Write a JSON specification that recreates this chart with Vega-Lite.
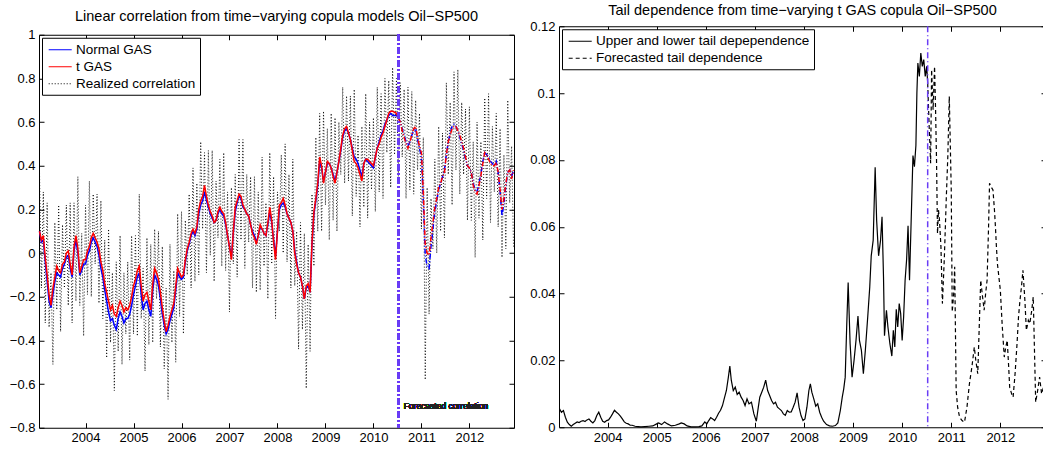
{
"$schema":"https://vega.github.io/schema/vega-lite/v6.json",
"padding":{"left":8,"top":0,"right":0,"bottom":0},
"config":{"view":{"stroke":"black","strokeWidth":1},"font":"Liberation Sans",
"axis":{"grid":false,"domain":false,"tickColor":"black","tickSize":5,"offset":-5,"labelColor":"black","labelFontSize":13,"labelFont":"Liberation Sans","labelPadding":4},
"title":{"font":"Liberation Sans","fontSize":14.5,"fontWeight":"normal","color":"black","offset":4},
"legend":{"title":null,"orient":"top-left","offset":3,"padding":4,"strokeColor":"black","fillColor":"white","labelFontSize":13.5,"labelFont":"Liberation Sans","labelColor":"black","symbolType":"M-0.76,0H2.53","symbolSize":196,"symbolStrokeWidth":1.2,"labelOffset":14,"rowPadding":2,"cornerRadius":0,"labelLimit":400}},
"resolve":{"scale":{"color":"independent"},"legend":{"color":"independent"}},
"spacing":11,
"center":true,
"datasets":{
"left":[
{"t":2003.04,"n":0.10,"g":0.10,"r":0.38},{"t":2003.08,"n":0.05,"g":0.06,"r":-0.16},{"t":2003.12,"n":0.06,"g":0.08,"r":0.28},{"t":2003.16,"n":-0.04,"g":-0.02,"r":-0.32},{"t":2003.20,"n":-0.13,"g":-0.10,"r":0.23},{"t":2003.24,"n":-0.22,"g":-0.19,"r":-0.34},{"t":2003.28,"n":-0.25,"g":-0.24,"r":-0.09},{"t":2003.32,"n":-0.19,"g":-0.16,"r":-0.51},
{"t":2003.36,"n":-0.13,"g":-0.11,"r":0.14},{"t":2003.40,"n":-0.09,"g":-0.06,"r":-0.26},{"t":2003.44,"n":-0.10,"g":-0.08,"r":0.22},{"t":2003.48,"n":-0.11,"g":-0.09,"r":-0.36},{"t":2003.52,"n":-0.07,"g":-0.05,"r":0.13},{"t":2003.56,"n":-0.05,"g":-0.04,"r":-0.16},{"t":2003.60,"n":-0.02,"g":0.00,"r":0.22},{"t":2003.64,"n":-0.01,"g":0.01,"r":-0.24},
{"t":2003.68,"n":-0.07,"g":-0.05,"r":0.23},{"t":2003.72,"n":-0.11,"g":-0.10,"r":-0.32},{"t":2003.76,"n":0.01,"g":0.03,"r":0.23},{"t":2003.80,"n":0.06,"g":0.08,"r":-0.22},{"t":2003.84,"n":0.00,"g":0.02,"r":0.35},{"t":2003.88,"n":-0.10,"g":-0.09,"r":-0.24},{"t":2003.92,"n":-0.08,"g":-0.06,"r":0.09},{"t":2003.96,"n":-0.05,"g":-0.03,"r":-0.38},
{"t":2004.00,"n":-0.05,"g":-0.03,"r":0.22},{"t":2004.04,"n":-0.01,"g":0.01,"r":-0.19},{"t":2004.08,"n":0.01,"g":0.03,"r":0.33},{"t":2004.12,"n":0.05,"g":0.07,"r":-0.20},{"t":2004.16,"n":0.07,"g":0.09,"r":0.27},{"t":2004.20,"n":0.05,"g":0.07,"r":-0.05},{"t":2004.24,"n":0.03,"g":0.05,"r":0.27},{"t":2004.28,"n":-0.01,"g":0.02,"r":-0.23},
{"t":2004.32,"n":-0.07,"g":-0.04,"r":0.24},{"t":2004.36,"n":-0.11,"g":-0.08,"r":-0.30},{"t":2004.40,"n":-0.17,"g":-0.14,"r":0.06},{"t":2004.44,"n":-0.22,"g":-0.18,"r":-0.48},{"t":2004.48,"n":-0.27,"g":-0.22,"r":0.11},{"t":2004.52,"n":-0.31,"g":-0.26,"r":-0.41},{"t":2004.56,"n":-0.30,"g":-0.24,"r":-0.09},{"t":2004.60,"n":-0.33,"g":-0.28,"r":-0.63},
{"t":2004.64,"n":-0.35,"g":-0.29,"r":-0.04},{"t":2004.68,"n":-0.30,"g":-0.25,"r":-0.45},{"t":2004.72,"n":-0.27,"g":-0.22,"r":0.08},{"t":2004.76,"n":-0.29,"g":-0.24,"r":-0.51},{"t":2004.80,"n":-0.32,"g":-0.27,"r":-0.09},{"t":2004.84,"n":-0.30,"g":-0.25,"r":-0.37},{"t":2004.88,"n":-0.30,"g":-0.26,"r":-0.04},{"t":2004.92,"n":-0.28,"g":-0.24,"r":-0.49},
{"t":2004.96,"n":-0.24,"g":-0.20,"r":0.08},{"t":2005.00,"n":-0.19,"g":-0.15,"r":-0.37},{"t":2005.04,"n":-0.15,"g":-0.12,"r":0.08},{"t":2005.08,"n":-0.11,"g":-0.08,"r":-0.38},{"t":2005.12,"n":-0.09,"g":-0.06,"r":0.27},{"t":2005.16,"n":-0.19,"g":-0.15,"r":-0.30},{"t":2005.20,"n":-0.26,"g":-0.22,"r":-0.07},{"t":2005.24,"n":-0.23,"g":-0.19,"r":-0.54},
{"t":2005.28,"n":-0.22,"g":-0.18,"r":0.07},{"t":2005.32,"n":-0.26,"g":-0.22,"r":-0.42},{"t":2005.36,"n":-0.29,"g":-0.26,"r":0.04},{"t":2005.40,"n":-0.17,"g":-0.14,"r":-0.41},{"t":2005.44,"n":-0.10,"g":-0.07,"r":0.11},{"t":2005.48,"n":-0.12,"g":-0.09,"r":-0.21},{"t":2005.52,"n":-0.15,"g":-0.12,"r":0.10},{"t":2005.56,"n":-0.21,"g":-0.18,"r":-0.43},
{"t":2005.60,"n":-0.28,"g":-0.25,"r":0.03},{"t":2005.64,"n":-0.33,"g":-0.31,"r":-0.53},{"t":2005.68,"n":-0.37,"g":-0.36,"r":-0.16},{"t":2005.72,"n":-0.35,"g":-0.33,"r":-0.67},{"t":2005.76,"n":-0.31,"g":-0.29,"r":0.04},{"t":2005.80,"n":-0.28,"g":-0.26,"r":-0.41},{"t":2005.84,"n":-0.25,"g":-0.23,"r":-0.08},{"t":2005.88,"n":-0.17,"g":-0.15,"r":-0.50},
{"t":2005.92,"n":-0.09,"g":-0.07,"r":0.18},{"t":2005.96,"n":-0.11,"g":-0.09,"r":-0.29},{"t":2006.00,"n":-0.12,"g":-0.11,"r":0.19},{"t":2006.04,"n":-0.11,"g":-0.10,"r":-0.37},{"t":2006.08,"n":-0.04,"g":-0.03,"r":0.15},{"t":2006.12,"n":0.01,"g":0.02,"r":-0.10},{"t":2006.16,"n":0.04,"g":0.05,"r":0.27},{"t":2006.20,"n":0.08,"g":0.09,"r":-0.16},
{"t":2006.24,"n":0.10,"g":0.11,"r":0.39},{"t":2006.28,"n":0.08,"g":0.09,"r":-0.13},{"t":2006.32,"n":0.11,"g":0.12,"r":0.32},{"t":2006.36,"n":0.18,"g":0.20,"r":-0.10},{"t":2006.40,"n":0.22,"g":0.24,"r":0.51},{"t":2006.44,"n":0.24,"g":0.26,"r":0.11},{"t":2006.48,"n":0.28,"g":0.31,"r":0.46},{"t":2006.52,"n":0.24,"g":0.26,"r":-0.09},
{"t":2006.56,"n":0.21,"g":0.22,"r":0.47},{"t":2006.60,"n":0.18,"g":0.19,"r":-0.01},{"t":2006.64,"n":0.16,"g":0.17,"r":0.47},{"t":2006.68,"n":0.14,"g":0.14,"r":-0.13},{"t":2006.72,"n":0.15,"g":0.15,"r":0.33},{"t":2006.76,"n":0.18,"g":0.19,"r":0.07},{"t":2006.80,"n":0.20,"g":0.21,"r":0.43},{"t":2006.84,"n":0.18,"g":0.19,"r":-0.06},
{"t":2006.88,"n":0.17,"g":0.18,"r":0.46},{"t":2006.92,"n":0.13,"g":0.14,"r":-0.08},{"t":2006.96,"n":0.08,"g":0.08,"r":0.28},{"t":2007.00,"n":0.03,"g":0.03,"r":-0.27},{"t":2007.04,"n":-0.02,"g":-0.03,"r":0.30},{"t":2007.08,"n":0.09,"g":0.10,"r":-0.05},{"t":2007.12,"n":0.19,"g":0.21,"r":0.36},{"t":2007.16,"n":0.23,"g":0.24,"r":-0.11},
{"t":2007.20,"n":0.26,"g":0.27,"r":0.52},{"t":2007.24,"n":0.25,"g":0.26,"r":0.06},{"t":2007.28,"n":0.21,"g":0.22,"r":0.52},{"t":2007.32,"n":0.20,"g":0.20,"r":-0.07},{"t":2007.36,"n":0.18,"g":0.18,"r":0.36},{"t":2007.40,"n":0.17,"g":0.17,"r":0.05},{"t":2007.44,"n":0.13,"g":0.13,"r":0.35},{"t":2007.48,"n":0.10,"g":0.09,"r":-0.16},
{"t":2007.52,"n":0.08,"g":0.07,"r":0.35},{"t":2007.56,"n":0.05,"g":0.04,"r":-0.18},{"t":2007.60,"n":0.08,"g":0.08,"r":0.28},{"t":2007.64,"n":0.12,"g":0.13,"r":-0.17},{"t":2007.68,"n":0.11,"g":0.11,"r":0.44},{"t":2007.72,"n":0.09,"g":0.09,"r":-0.06},{"t":2007.76,"n":0.08,"g":0.08,"r":0.23},{"t":2007.80,"n":0.13,"g":0.14,"r":-0.21},
{"t":2007.84,"n":0.19,"g":0.21,"r":0.46},{"t":2007.88,"n":0.14,"g":0.15,"r":-0.05},{"t":2007.92,"n":0.06,"g":0.05,"r":0.35},{"t":2007.96,"n":-0.01,"g":-0.03,"r":-0.30},{"t":2008.00,"n":0.10,"g":0.10,"r":0.28},{"t":2008.04,"n":0.20,"g":0.22,"r":0.10},{"t":2008.08,"n":0.22,"g":0.23,"r":0.45},{"t":2008.12,"n":0.23,"g":0.25,"r":0.00},
{"t":2008.16,"n":0.21,"g":0.22,"r":0.50},{"t":2008.20,"n":0.18,"g":0.18,"r":-0.04},{"t":2008.24,"n":0.16,"g":0.16,"r":0.36},{"t":2008.28,"n":0.14,"g":0.14,"r":-0.16},{"t":2008.32,"n":0.10,"g":0.10,"r":0.43},{"t":2008.36,"n":0.01,"g":0.00,"r":-0.15},{"t":2008.40,"n":-0.04,"g":-0.05,"r":0.10},{"t":2008.44,"n":-0.09,"g":-0.09,"r":-0.44},
{"t":2008.48,"n":-0.11,"g":-0.11,"r":0.14},{"t":2008.52,"n":-0.15,"g":-0.15,"r":-0.35},{"t":2008.56,"n":-0.21,"g":-0.21,"r":0.09},{"t":2008.60,"n":-0.16,"g":-0.15,"r":-0.62},{"t":2008.64,"n":-0.15,"g":-0.14,"r":0.04},{"t":2008.68,"n":-0.18,"g":-0.18,"r":-0.45},{"t":2008.72,"n":0.04,"g":0.05,"r":0.27},{"t":2008.76,"n":0.18,"g":0.19,"r":-0.06},
{"t":2008.80,"n":0.24,"g":0.25,"r":0.53},{"t":2008.84,"n":0.31,"g":0.32,"r":0.10},{"t":2008.88,"n":0.42,"g":0.44,"r":0.64},{"t":2008.92,"n":0.39,"g":0.40,"r":0.10},{"t":2008.96,"n":0.33,"g":0.32,"r":0.65},{"t":2009.00,"n":0.37,"g":0.37,"r":0.22},{"t":2009.04,"n":0.41,"g":0.42,"r":0.57},{"t":2009.08,"n":0.41,"g":0.41,"r":0.06},
{"t":2009.12,"n":0.39,"g":0.39,"r":0.64},{"t":2009.16,"n":0.36,"g":0.35,"r":0.15},{"t":2009.20,"n":0.33,"g":0.32,"r":0.62},{"t":2009.24,"n":0.37,"g":0.37,"r":0.10},{"t":2009.28,"n":0.42,"g":0.42,"r":0.60},{"t":2009.32,"n":0.47,"g":0.48,"r":0.36},{"t":2009.36,"n":0.53,"g":0.54,"r":0.76},{"t":2009.40,"n":0.56,"g":0.57,"r":0.32},
{"t":2009.44,"n":0.57,"g":0.58,"r":0.72},{"t":2009.48,"n":0.55,"g":0.55,"r":0.33},{"t":2009.52,"n":0.52,"g":0.52,"r":0.72},{"t":2009.56,"n":0.48,"g":0.47,"r":0.17},{"t":2009.60,"n":0.44,"g":0.42,"r":0.75},{"t":2009.64,"n":0.43,"g":0.41,"r":0.26},{"t":2009.68,"n":0.41,"g":0.39,"r":0.54},{"t":2009.72,"n":0.38,"g":0.36,"r":0.12},
{"t":2009.76,"n":0.35,"g":0.33,"r":0.58},{"t":2009.80,"n":0.41,"g":0.41,"r":0.21},{"t":2009.84,"n":0.43,"g":0.43,"r":0.73},{"t":2009.88,"n":0.42,"g":0.43,"r":0.16},{"t":2009.92,"n":0.41,"g":0.42,"r":0.60},{"t":2009.96,"n":0.40,"g":0.41,"r":0.29},{"t":2010.00,"n":0.39,"g":0.40,"r":0.62},{"t":2010.04,"n":0.44,"g":0.44,"r":0.19},
{"t":2010.08,"n":0.48,"g":0.48,"r":0.76},{"t":2010.12,"n":0.51,"g":0.50,"r":0.28},{"t":2010.16,"n":0.54,"g":0.53,"r":0.73},{"t":2010.20,"n":0.56,"g":0.55,"r":0.25},{"t":2010.24,"n":0.59,"g":0.58,"r":0.80},{"t":2010.28,"n":0.61,"g":0.61,"r":0.46},{"t":2010.32,"n":0.63,"g":0.64,"r":0.79},{"t":2010.36,"n":0.64,"g":0.65,"r":0.30},
{"t":2010.40,"n":0.63,"g":0.65,"r":0.85},{"t":2010.44,"n":0.63,"g":0.645,"r":0.45},{"t":2010.48,"n":0.63,"g":0.64,"r":0.80},{"t":2010.52,"n":0.62,"g":0.62,"r":0.35},{"t":2010.56,"n":0.60,"g":0.60,"r":0.78},{"t":2010.60,"n":0.57,"g":0.56,"r":0.44},{"t":2010.64,"n":0.54,"g":0.53,"r":0.75},{"t":2010.68,"n":0.51,"g":0.50,"r":0.25},
{"t":2010.72,"n":0.49,"g":0.48,"r":0.76},{"t":2010.76,"n":0.51,"g":0.51,"r":0.29},{"t":2010.80,"n":0.54,"g":0.54,"r":0.74},{"t":2010.84,"n":0.56,"g":0.57,"r":0.27},{"t":2010.88,"n":0.57,"g":0.58,"r":0.70},{"t":2010.92,"n":0.52,"g":0.53,"r":0.38},{"t":2010.96,"n":0.48,"g":0.49,"r":0.64},{"t":2011.00,"n":0.44,"g":0.46,"r":0.11},
{"t":2011.04,"n":0.24,"g":0.28,"r":0.53},{"t":2011.08,"n":-0.01,"g":0.04,"r":-0.58},{"t":2011.12,"n":-0.06,"g":0.00,"r":0.30},{"t":2011.16,"n":-0.07,"g":-0.01,"r":-0.28},{"t":2011.20,"n":0.03,"g":0.07,"r":0.25},{"t":2011.24,"n":0.11,"g":0.14,"r":0.02},{"t":2011.28,"n":0.19,"g":0.21,"r":0.43},{"t":2011.32,"n":0.24,"g":0.25,"r":0.00},
{"t":2011.36,"n":0.29,"g":0.30,"r":0.58},{"t":2011.40,"n":0.32,"g":0.32,"r":0.10},{"t":2011.44,"n":0.35,"g":0.35,"r":0.55},{"t":2011.48,"n":0.38,"g":0.37,"r":0.07},{"t":2011.52,"n":0.45,"g":0.45,"r":0.78},{"t":2011.56,"n":0.51,"g":0.51,"r":0.36},{"t":2011.60,"n":0.55,"g":0.54,"r":0.69},{"t":2011.64,"n":0.58,"g":0.57,"r":0.22},
{"t":2011.68,"n":0.59,"g":0.58,"r":0.83},{"t":2011.72,"n":0.58,"g":0.58,"r":0.38},{"t":2011.76,"n":0.56,"g":0.56,"r":0.84},{"t":2011.80,"n":0.53,"g":0.54,"r":0.27},{"t":2011.84,"n":0.50,"g":0.51,"r":0.69},{"t":2011.88,"n":0.47,"g":0.48,"r":0.36},{"t":2011.92,"n":0.43,"g":0.44,"r":0.66},{"t":2011.96,"n":0.40,"g":0.40,"r":0.15},
{"t":2012.00,"n":0.39,"g":0.39,"r":0.67},{"t":2012.04,"n":0.37,"g":0.37,"r":0.15},{"t":2012.08,"n":0.32,"g":0.31,"r":0.51},{"t":2012.12,"n":0.29,"g":0.28,"r":-0.02},{"t":2012.16,"n":0.28,"g":0.27,"r":0.60},{"t":2012.20,"n":0.32,"g":0.31,"r":0.16},{"t":2012.24,"n":0.36,"g":0.355,"r":0.51},{"t":2012.28,"n":0.42,"g":0.41,"r":0.06},
{"t":2012.32,"n":0.46,"g":0.46,"r":0.71},{"t":2012.36,"n":0.45,"g":0.45,"r":0.25},{"t":2012.40,"n":0.44,"g":0.43,"r":0.73},{"t":2012.44,"n":0.42,"g":0.41,"r":0.14},{"t":2012.48,"n":0.41,"g":0.40,"r":0.58},{"t":2012.52,"n":0.40,"g":0.40,"r":0.28},{"t":2012.56,"n":0.42,"g":0.415,"r":0.64},{"t":2012.60,"n":0.37,"g":0.37,"r":0.12},
{"t":2012.64,"n":0.28,"g":0.29,"r":0.57},{"t":2012.68,"n":0.17,"g":0.20,"r":-0.02},{"t":2012.72,"n":0.23,"g":0.25,"r":0.45},{"t":2012.76,"n":0.31,"g":0.32,"r":0.02},{"t":2012.80,"n":0.37,"g":0.37,"r":0.70},{"t":2012.84,"n":0.38,"g":0.38,"r":0.23},{"t":2012.88,"n":0.35,"g":0.34,"r":0.49},{"t":2012.92,"n":0.38,"g":0.38,"r":0.03}
],
"tailObs":[
{"t":2003.02,"v":0.0055},{"t":2003.06,"v":0.0045},{"t":2003.10,"v":0.0050},{"t":2003.14,"v":0.0030},{"t":2003.18,"v":0.0015},{"t":2003.22,"v":0.0008},{"t":2003.26,"v":0.0003},{"t":2003.30,"v":0.0008},{"t":2003.34,"v":0.0012},{"t":2003.38,"v":0.0016},{"t":2003.42,"v":0.0014},{"t":2003.46,"v":0.0018},{"t":2003.50,"v":0.0020},{"t":2003.54,"v":0.0017},{"t":2003.58,"v":0.0022},{"t":2003.62,"v":0.0025},{"t":2003.66,"v":0.0018},{"t":2003.70,"v":0.0013},{"t":2003.74,"v":0.0020},{"t":2003.78,"v":0.0035},{"t":2003.82,"v":0.0045},{"t":2003.86,"v":0.0030},{"t":2003.90,"v":0.0018},{"t":2003.94,"v":0.0015},{"t":2003.98,"v":0.0020},
{"t":2004.02,"v":0.0022},{"t":2004.06,"v":0.0030},{"t":2004.10,"v":0.0040},{"t":2004.14,"v":0.0051},{"t":2004.18,"v":0.0045},{"t":2004.22,"v":0.0040},{"t":2004.26,"v":0.0033},{"t":2004.30,"v":0.0025},{"t":2004.34,"v":0.0016},{"t":2004.38,"v":0.0012},{"t":2004.42,"v":0.0010},{"t":2004.46,"v":0.0006},{"t":2004.50,"v":0.0006},{"t":2004.56,"v":0.0003},{"t":2004.62,"v":0.0002},{"t":2004.68,"v":0.0001},{"t":2004.76,"v":0.0002},{"t":2004.84,"v":0.0003},{"t":2004.92,"v":0.0004},
{"t":2005.00,"v":0.0010},{"t":2005.04,"v":0.0013},{"t":2005.10,"v":0.0008},{"t":2005.16,"v":0.0016},{"t":2005.22,"v":0.0010},{"t":2005.30,"v":0.0004},{"t":2005.38,"v":0.0006},{"t":2005.46,"v":0.0010},{"t":2005.50,"v":0.0013},{"t":2005.56,"v":0.0010},{"t":2005.62,"v":0.0004},{"t":2005.70,"v":0.0001},{"t":2005.78,"v":0.0001},{"t":2005.86,"v":0.0002},{"t":2005.92,"v":0.0004},{"t":2005.98,"v":0.0016},
{"t":2006.02,"v":0.0010},{"t":2006.06,"v":0.0020},{"t":2006.10,"v":0.0029},{"t":2006.14,"v":0.0025},{"t":2006.18,"v":0.0020},{"t":2006.22,"v":0.0030},{"t":2006.26,"v":0.0042},{"t":2006.30,"v":0.0051},{"t":2006.34,"v":0.0065},{"t":2006.38,"v":0.0088},{"t":2006.42,"v":0.0110},{"t":2006.46,"v":0.0150},{"t":2006.49,"v":0.0183},{"t":2006.52,"v":0.0140},{"t":2006.56,"v":0.0110},{"t":2006.60,"v":0.0120},{"t":2006.64,"v":0.0098},{"t":2006.68,"v":0.0105},{"t":2006.72,"v":0.0090},{"t":2006.76,"v":0.0080},{"t":2006.80,"v":0.0065},{"t":2006.84,"v":0.0085},{"t":2006.88,"v":0.0070},{"t":2006.93,"v":0.0075},{"t":2006.98,"v":0.0040},
{"t":2007.03,"v":0.0018},{"t":2007.07,"v":0.0060},{"t":2007.10,"v":0.0090},{"t":2007.14,"v":0.0105},{"t":2007.18,"v":0.0120},{"t":2007.22,"v":0.0141},{"t":2007.26,"v":0.0110},{"t":2007.30,"v":0.0095},{"t":2007.34,"v":0.0080},{"t":2007.38,"v":0.0070},{"t":2007.42,"v":0.0075},{"t":2007.46,"v":0.0060},{"t":2007.50,"v":0.0055},{"t":2007.54,"v":0.0050},{"t":2007.58,"v":0.0040},{"t":2007.62,"v":0.0036},{"t":2007.66,"v":0.0050},{"t":2007.70,"v":0.0045},{"t":2007.74,"v":0.0046},{"t":2007.78,"v":0.0060},{"t":2007.82,"v":0.0075},{"t":2007.86,"v":0.0103},{"t":2007.90,"v":0.0060},{"t":2007.94,"v":0.0035},{"t":2007.98,"v":0.0020},
{"t":2008.02,"v":0.0025},{"t":2008.06,"v":0.0060},{"t":2008.10,"v":0.0110},{"t":2008.13,"v":0.0130},{"t":2008.16,"v":0.0105},{"t":2008.20,"v":0.0085},{"t":2008.24,"v":0.0063},{"t":2008.28,"v":0.0070},{"t":2008.32,"v":0.0045},{"t":2008.36,"v":0.0030},{"t":2008.40,"v":0.0018},{"t":2008.46,"v":0.0008},{"t":2008.52,"v":0.0004},{"t":2008.58,"v":0.0003},{"t":2008.64,"v":0.0005},{"t":2008.69,"v":0.0013},{"t":2008.74,"v":0.0050},{"t":2008.78,"v":0.0090},{"t":2008.81,"v":0.0115},{"t":2008.84,"v":0.0150},{"t":2008.87,"v":0.0300},{"t":2008.90,"v":0.0433},{"t":2008.94,"v":0.0250},{"t":2008.98,"v":0.0150},
{"t":2009.02,"v":0.0200},{"t":2009.06,"v":0.0260},{"t":2009.10,"v":0.0333},{"t":2009.13,"v":0.0260},{"t":2009.17,"v":0.0230},{"t":2009.21,"v":0.0160},{"t":2009.25,"v":0.0230},{"t":2009.30,"v":0.0333},{"t":2009.34,"v":0.0420},{"t":2009.37,"v":0.0513},{"t":2009.41,"v":0.0560},{"t":2009.45,"v":0.0778},{"t":2009.48,"v":0.0620},{"t":2009.52,"v":0.0513},{"t":2009.56,"v":0.0560},{"t":2009.59,"v":0.0630},{"t":2009.62,"v":0.0450},{"t":2009.64,"v":0.0274},{"t":2009.68,"v":0.0350},{"t":2009.71,"v":0.0300},{"t":2009.75,"v":0.0250},{"t":2009.79,"v":0.0213},{"t":2009.82,"v":0.0290},{"t":2009.85,"v":0.0240},{"t":2009.88,"v":0.0353},{"t":2009.91,"v":0.0300},{"t":2009.94,"v":0.0370},{"t":2009.97,"v":0.0340},
{"t":2010.00,"v":0.0260},{"t":2010.03,"v":0.0330},{"t":2010.06,"v":0.0440},{"t":2010.09,"v":0.0500},{"t":2010.12,"v":0.0603},{"t":2010.15,"v":0.0440},{"t":2010.18,"v":0.0600},{"t":2010.22,"v":0.0813},{"t":2010.25,"v":0.0780},{"t":2010.28,"v":0.0843},{"t":2010.30,"v":0.1000},{"t":2010.32,"v":0.1090},{"t":2010.35,"v":0.1050},{"t":2010.38,"v":0.1120},{"t":2010.41,"v":0.1080},{"t":2010.44,"v":0.1100},{"t":2010.47,"v":0.1050},{"t":2010.50,"v":0.1080},{"t":2010.52,"v":0.1030}
],
"tailFc":[
{"t":2010.52,"v":0.1030},{"t":2010.55,"v":0.0900},{"t":2010.58,"v":0.0790},{"t":2010.60,"v":0.1070},{"t":2010.63,"v":0.0950},{"t":2010.66,"v":0.1080},{"t":2010.68,"v":0.0955},{"t":2010.70,"v":0.0800},{"t":2010.72,"v":0.0580},{"t":2010.74,"v":0.0650},{"t":2010.76,"v":0.0620},{"t":2010.79,"v":0.0540},{"t":2010.82,"v":0.0370},{"t":2010.84,"v":0.0440},{"t":2010.86,"v":0.0510},{"t":2010.88,"v":0.0600},{"t":2010.90,"v":0.0690},{"t":2010.93,"v":0.0810},{"t":2010.96,"v":0.0990},{"t":2010.98,"v":0.0850},
{"t":2011.00,"v":0.0710},{"t":2011.02,"v":0.0345},{"t":2011.05,"v":0.0400},{"t":2011.07,"v":0.0480},{"t":2011.10,"v":0.0110},{"t":2011.13,"v":0.0060},{"t":2011.17,"v":0.0030},{"t":2011.22,"v":0.0020},{"t":2011.27,"v":0.0015},{"t":2011.32,"v":0.0060},{"t":2011.37,"v":0.0130},{"t":2011.42,"v":0.0180},{"t":2011.47,"v":0.0240},{"t":2011.50,"v":0.0200},{"t":2011.54,"v":0.0160},{"t":2011.57,"v":0.0300},{"t":2011.60,"v":0.0440},{"t":2011.63,"v":0.0400},{"t":2011.67,"v":0.0350},{"t":2011.70,"v":0.0400},{"t":2011.73,"v":0.0440},{"t":2011.76,"v":0.0600},{"t":2011.78,"v":0.0730},{"t":2011.81,"v":0.0720},{"t":2011.85,"v":0.0710},{"t":2011.88,"v":0.0650},{"t":2011.90,"v":0.0600},{"t":2011.92,"v":0.0540},{"t":2011.94,"v":0.0490},{"t":2011.97,"v":0.0450},
{"t":2012.00,"v":0.0410},{"t":2012.04,"v":0.0300},{"t":2012.08,"v":0.0210},{"t":2012.11,"v":0.0240},{"t":2012.14,"v":0.0260},{"t":2012.17,"v":0.0180},{"t":2012.19,"v":0.0120},{"t":2012.23,"v":0.0100},{"t":2012.26,"v":0.0090},{"t":2012.30,"v":0.0160},{"t":2012.34,"v":0.0250},{"t":2012.37,"v":0.0330},{"t":2012.40,"v":0.0380},{"t":2012.43,"v":0.0420},{"t":2012.46,"v":0.0470},{"t":2012.50,"v":0.0380},{"t":2012.53,"v":0.0290},{"t":2012.57,"v":0.0320},{"t":2012.60,"v":0.0310},{"t":2012.64,"v":0.0350},{"t":2012.67,"v":0.0390},{"t":2012.70,"v":0.0200},{"t":2012.72,"v":0.0075},{"t":2012.76,"v":0.0110},{"t":2012.80,"v":0.0150},{"t":2012.84,"v":0.0100},{"t":2012.88,"v":0.0120},{"t":2012.92,"v":0.0090}
]
},
"hconcat":[
{
"width":475,"height":393,
"title":{"text":["","Linear correlation from time−varying copula models Oil−SP500"],"lineHeight":8},
"data":{"name":"left"},
"resolve":{"axis":{"x":"independent","y":"independent"}},
"layer":[
{"mark":{"type":"line","strokeDash":[1,2],"strokeWidth":0.9,"clip":true},
"encoding":{
"x":{"field":"t","type":"quantitative","scale":{"domain":[2003.03,2012.93],"nice":false,"zero":false},"axis":{"values":[2004,2005,2006,2007,2008,2009,2010,2011,2012],"format":"d","title":null}},
"y":{"field":"r","type":"quantitative","scale":{"domain":[-0.8,1],"nice":false,"zero":false},"axis":{"values":[-0.8,-0.6,-0.4,-0.2,0,0.2,0.4,0.6,0.8,1],"format":".1~f","title":null}},
"color":{"datum":"Realized correlation","scale":{"domain":["Normal GAS","t GAS","Realized correlation"],"range":["#0000ff","#ff0000","#000000"]},
"legend":{"encode":{"symbols":{"update":{"strokeDash":{"signal":"datum.value === 'Realized correlation' ? [1,2] : [1,0]"}}}}}}}},
{"transform":[{"filter":"datum.t <= 2010.52"}],
"mark":{"type":"line","strokeWidth":1.5},
"encoding":{
"x":{"field":"t","type":"quantitative","axis":{"orient":"top","labels":false,"values":[2004,2005,2006,2007,2008,2009,2010,2011,2012],"title":null}},
"y":{"field":"n","type":"quantitative","axis":{"orient":"right","labels":false,"values":[-0.8,-0.6,-0.4,-0.2,0,0.2,0.4,0.6,0.8,1],"title":null}},
"color":{"datum":"Normal GAS"}}},
{"transform":[{"filter":"datum.t <= 2010.52"}],
"mark":{"type":"line","strokeWidth":1.5},
"encoding":{
"x":{"field":"t","type":"quantitative","axis":null},
"y":{"field":"g","type":"quantitative","axis":null},
"color":{"datum":"t GAS"}}},
{"transform":[{"filter":"datum.t >= 2010.52"}],
"mark":{"type":"line","strokeWidth":1.5,"strokeDash":[5,2,1,2]},
"encoding":{
"x":{"field":"t","type":"quantitative","axis":null},
"y":{"field":"n","type":"quantitative","axis":null},
"color":{"datum":"Normal GAS"}}},
{"transform":[{"filter":"datum.t >= 2010.52"}],
"mark":{"type":"line","strokeWidth":1.5,"strokeDash":[5,2,1,2]},
"encoding":{
"x":{"field":"t","type":"quantitative","axis":null},
"y":{"field":"g","type":"quantitative","axis":null},
"color":{"datum":"t GAS"}}},
{"mark":{"type":"rule","color":"#6a3df5","strokeWidth":1.5,"strokeDash":[6,3,1,3]},
"encoding":{"x":{"datum":2010.52,"type":"quantitative","axis":null}}},
{"mark":{"type":"text","align":"left","baseline":"middle","fontSize":8.5,"font":"Liberation Sans","color":"#222222"},
"encoding":{"x":{"datum":2010.63,"type":"quantitative","axis":null},"y":{"datum":-0.70,"type":"quantitative","axis":null},"text":{"value":"Forecasted correlation"}}}
]
},
{
"width":487,"height":401,
"title":{"text":"Tail dependence from time−varying t GAS copula Oil−SP500","offset":2},
"resolve":{"axis":{"x":"independent","y":"independent"}},
"layer":[
{"data":{"name":"tailObs"},
"mark":{"type":"line","strokeWidth":1.2},
"encoding":{
"x":{"field":"t","type":"quantitative","scale":{"domain":[2003.01,2012.93],"nice":false,"zero":false},"axis":{"values":[2004,2005,2006,2007,2008,2009,2010,2011,2012],"format":"d","title":" ","titleFontSize":9,"titlePadding":0}},
"y":{"field":"v","type":"quantitative","scale":{"domain":[0,0.12],"nice":false},"axis":{"values":[0,0.02,0.04,0.06,0.08,0.1,0.12],"format":".2~f","title":null}},
"color":{"datum":"Upper and lower tail depependence","scale":{"domain":["Upper and lower tail depependence","Forecasted tail dependence"],"range":["#000000","#000000"]},
"legend":{"encode":{"symbols":{"update":{"strokeDash":{"signal":"datum.value === 'Forecasted tail dependence' ? [4,3] : [1,0]"}}}}}}}},
{"data":{"name":"tailFc"},
"mark":{"type":"line","strokeWidth":1.2,"strokeDash":[4,3]},
"encoding":{
"x":{"field":"t","type":"quantitative","axis":{"orient":"top","labels":false,"values":[2004,2005,2006,2007,2008,2009,2010,2011,2012],"title":null}},
"y":{"field":"v","type":"quantitative","axis":{"orient":"right","labels":false,"values":[0,0.02,0.04,0.06,0.08,0.1,0.12],"title":null}},
"color":{"datum":"Forecasted tail dependence"}}},
{"data":{"values":[{}]},"mark":{"type":"rule","color":"#6a3df5","strokeWidth":1.5,"strokeDash":[6,3,1,3]},
"encoding":{"x":{"datum":2010.52,"type":"quantitative","axis":null}}}
]
}
]
}
